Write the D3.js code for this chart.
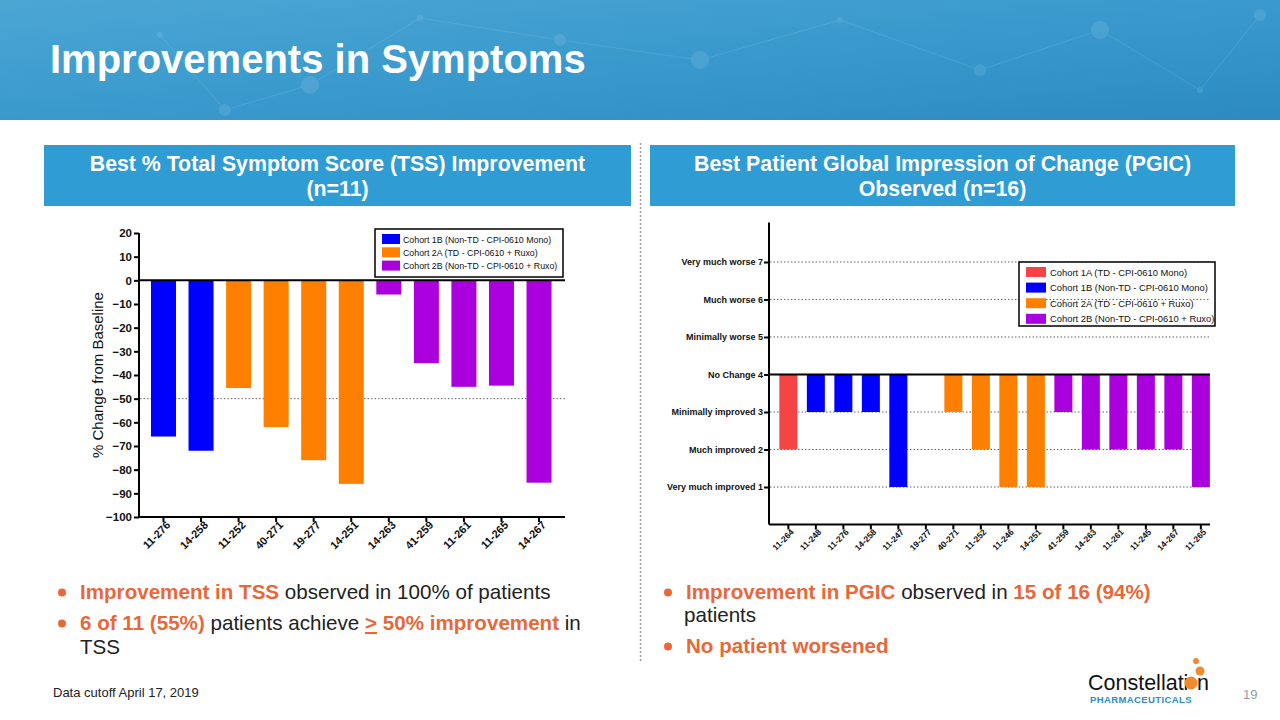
<!DOCTYPE html>
<html><head><meta charset="utf-8">
<script src="https://cdn.jsdelivr.net/npm/d3@7"></script>
<style>
html,body{margin:0;padding:0;background:#fff;}
svg{display:block;}
svg text{font-family:Arial,"Liberation Sans",Helvetica,sans-serif;}
</style></head>
<body><svg id="c" width="1280" height="720"></svg>
<script>
// ---------- DATA ----------
const tssPatients = ["11-276","14-258","11-252","40-271","19-277","14-251","14-263","41-259","11-261","11-265","14-267"];
const tssValues   = [-66, -72, -45.5, -62, -76, -86, -6, -35, -45, -44.5, -85.5];
const tssCohorts  = ["1B","1B","2A","2A","2A","2A","2B","2B","2B","2B","2B"];
const tssTicks    = [20,10,0,-10,-20,-30,-40,-50,-60,-70,-80,-90,-100];

const pgicPatients = ["11-264","11-248","11-276","14-258","11-247","19-277","40-271","11-252","11-246","14-251","41-259","14-263","11-261","11-245","14-267","11-265"];
const pgicValues   = [2,3,3,3,1,4,3,2,1,1,3,2,2,2,2,1];
const pgicCohorts  = ["1A","1B","1B","1B","1B","2A","2A","2A","2A","2A","2B","2B","2B","2B","2B","2B"];
const pgicLevels   = [1,2,3,4,5,6,7];
const pgicLabels   = ["Very much improved 1","Much improved 2","Minimally improved 3","No Change 4","Minimally worse 5","Much worse 6","Very much worse 7"];

const cohortKeys   = ["1A","1B","2A","2B"];
const cohortNames  = ["Cohort 1A (TD - CPI-0610 Mono)","Cohort 1B (Non-TD - CPI-0610 Mono)","Cohort 2A (TD - CPI-0610 + Ruxo)","Cohort 2B (Non-TD - CPI-0610 + Ruxo)"];
const cohortColors = ["#f44444","#0000ff","#ff8000","#aa00dd"];

// ---------- SETUP ----------
const FONT = "Arial, 'Liberation Sans', Helvetica, sans-serif";
const svg = d3.select("#c");
const color = d3.scaleOrdinal().domain(cohortKeys).range(cohortColors);
const orange = "#e8683a";
const defs = svg.append("defs");
const g1 = defs.append("linearGradient").attr("id","hdr").attr("x1","0").attr("x2","1").attr("y1","0").attr("y2","1");
g1.append("stop").attr("offset","0").attr("stop-color","#4ba6d4");
g1.append("stop").attr("offset","0.6").attr("stop-color","#3797cb");
g1.append("stop").attr("offset","1").attr("stop-color","#2c8ac0");

// banner
svg.append("rect").attr("x",0).attr("y",0).attr("width",1280).attr("height",120).attr("fill","url(#hdr)");
const deco = svg.append("g").attr("opacity",0.12).attr("stroke","#cfeaff").attr("fill","#cfeaff");
const net = [[160,35],[225,110],[310,85],[420,18],[560,40],[700,60],[840,20],[980,70],[1100,30],[1200,90],[1260,15]];
for(let i=0;i<net.length-1;i++){deco.append("line").attr("x1",net[i][0]).attr("y1",net[i][1]).attr("x2",net[i+1][0]).attr("y2",net[i+1][1]).attr("stroke-width",1);}
net.forEach((p,i)=>deco.append("circle").attr("cx",p[0]).attr("cy",p[1]).attr("r",3+(i%3)*3).attr("stroke","none"));
svg.append("text").attr("x",50).attr("y",73).attr("fill","#fff").attr("font-size",40).attr("font-weight","bold").text("Improvements in Symptoms");

// section headers
function sect(x,w,l1,l2){
  svg.append("rect").attr("x",x).attr("y",145).attr("width",w).attr("height",61).attr("fill","#2f9dd3");
  svg.append("text").attr("x",x+w/2).attr("y",171).attr("text-anchor","middle").attr("fill","#fff").attr("font-size",21.3).attr("font-weight","bold").text(l1);
  svg.append("text").attr("x",x+w/2).attr("y",196).attr("text-anchor","middle").attr("fill","#fff").attr("font-size",21.3).attr("font-weight","bold").text(l2);
}
sect(44,587,"Best % Total Symptom Score (TSS) Improvement","(n=11)");
sect(650,585,"Best Patient Global Impression of Change (PGIC)","Observed (n=16)");

// separator
svg.append("line").attr("x1",640.5).attr("x2",640.5).attr("y1",143).attr("y2",662).attr("stroke","#9a9a9a").attr("stroke-width",1.5).attr("stroke-dasharray","2,2");

// ---------- LEFT CHART ----------
const xL = d3.scaleBand().domain(tssPatients).range([144.7,557.8]).paddingInner(0.334).paddingOuter(0.167);
const yL = d3.scaleLinear().domain([-100,20]).range([517,233]);
const L = svg.append("g");
L.append("line").attr("x1",140).attr("x2",565).attr("y1",yL(-50)).attr("y2",yL(-50)).attr("stroke","#666").attr("stroke-width",1).attr("stroke-dasharray","1.5,2");
L.selectAll("rect.b").data(tssValues).join("rect")
  .attr("x",(d,i)=>xL(tssPatients[i])).attr("width",xL.bandwidth())
  .attr("y",yL(0)).attr("height",d=>yL(d)-yL(0))
  .attr("fill",(d,i)=>color(tssCohorts[i]));
const ayL = L.append("g").attr("transform","translate(139,0)").call(d3.axisLeft(yL).tickValues(tssTicks).tickSize(5).tickPadding(2).tickFormat(d3.format("d")));
ayL.select(".domain").attr("stroke","#000").attr("stroke-width",2).attr("d","M0,517V233");
ayL.selectAll(".tick line").attr("stroke","#000").attr("stroke-width",2);
ayL.selectAll("text").attr("font-size",11.5).attr("font-weight","bold").attr("fill","#111").attr("font-family",FONT);
L.append("line").attr("x1",139).attr("x2",565).attr("y1",yL(0)).attr("y2",yL(0)).attr("stroke","#000").attr("stroke-width",2);
const axL = L.append("g").attr("transform","translate(0,517)").call(d3.axisBottom(xL).tickSize(5).tickSizeOuter(0));
axL.select(".domain").attr("d","M139,0H565").attr("stroke","#000").attr("stroke-width",2);
axL.selectAll(".tick line").attr("stroke","#000").attr("stroke-width",2);
axL.selectAll("text").attr("font-size",11).attr("font-weight","bold").attr("fill","#111").attr("font-family",FONT)
  .attr("text-anchor","end").attr("transform","translate(5,6) rotate(-45)").attr("dy","0.35em").attr("y",0);
L.append("text").attr("transform","translate(103,375) rotate(-90)").attr("text-anchor","middle").attr("font-size",15).attr("fill","#111").text("% Change from Baseline");
const lgL = L.append("g");
lgL.append("rect").attr("x",375).attr("y",229).attr("width",188).attr("height",48).attr("fill","#fff").attr("stroke","#000").attr("stroke-width",1.5);
["1B","2A","2B"].forEach((k,i)=>{
  const ci = cohortKeys.indexOf(k);
  lgL.append("rect").attr("x",382).attr("y",234+i*13.3).attr("width",18).attr("height",10).attr("fill",cohortColors[ci]);
  lgL.append("text").attr("x",403).attr("y",242.5+i*13.3).attr("font-size",8.8).attr("fill","#111").text(cohortNames[ci]);
});

// ---------- RIGHT CHART ----------
const xR = d3.scaleBand().domain(pgicPatients).range([774.6,1214.6]).paddingInner(0.345).paddingOuter(0.1725);
const yR = d3.scaleLinear().domain([0,8]).range([524.5,224.5]);
const R = svg.append("g");
pgicLevels.filter(v=>v!==4).forEach(v=>{
  R.append("line").attr("x1",770).attr("x2",1210).attr("y1",yR(v)).attr("y2",yR(v)).attr("stroke","#666").attr("stroke-width",1).attr("stroke-dasharray","1.5,2");
});
R.selectAll("rect.b").data(pgicValues).join("rect")
  .attr("x",(d,i)=>xR(pgicPatients[i])).attr("width",xR.bandwidth())
  .attr("y",yR(4)).attr("height",d=>yR(d)-yR(4))
  .attr("fill",(d,i)=>color(pgicCohorts[i]));
const ayR = R.append("g").attr("transform","translate(769,0)").call(d3.axisLeft(yR).tickValues(pgicLevels).tickSize(5).tickPadding(1).tickFormat((d,i)=>pgicLabels[i]));
ayR.select(".domain").attr("stroke","#000").attr("stroke-width",2).attr("d","M0,"+yR(0)+"V"+(yR(8)-2));
ayR.selectAll(".tick line").attr("stroke","#000").attr("stroke-width",2);
ayR.selectAll("text").attr("font-size",9).attr("font-weight","bold").attr("fill","#111").attr("font-family",FONT);
R.append("line").attr("x1",769).attr("x2",1210).attr("y1",yR(4)).attr("y2",yR(4)).attr("stroke","#000").attr("stroke-width",2);
const axR = R.append("g").attr("transform","translate(0,"+yR(0)+")").call(d3.axisBottom(xR).tickSize(5).tickSizeOuter(0));
axR.select(".domain").attr("d","M769,0H1210").attr("stroke","#000").attr("stroke-width",2);
axR.selectAll(".tick line").attr("stroke","#000").attr("stroke-width",2);
axR.selectAll("text").attr("font-size",8.5).attr("font-weight","bold").attr("fill","#111").attr("font-family",FONT)
  .attr("text-anchor","end").attr("transform","translate(4,6) rotate(-45)").attr("dy","0.35em").attr("y",0);
const lgR = R.append("g");
lgR.append("rect").attr("x",1019).attr("y",262).attr("width",196).attr("height",64).attr("fill","#fff").attr("stroke","#000").attr("stroke-width",1.5);
cohortKeys.forEach((k,i)=>{
  lgR.append("rect").attr("x",1026).attr("y",267+i*15.6).attr("width",20).attr("height",10).attr("fill",cohortColors[i]);
  lgR.append("text").attr("x",1050).attr("y",275.5+i*15.6).attr("font-size",9.4).attr("fill","#111").text(cohortNames[i]);
});
R.append("line").attr("x1",1046).attr("x2",1210).attr("y1",yR(6)).attr("y2",yR(6)).attr("stroke","#666").attr("stroke-width",1).attr("stroke-dasharray","1.5,2");

// ---------- BULLETS ----------
function bullet(x,y,parts){
  svg.append("circle").attr("cx",x).attr("cy",y-6.5).attr("r",4).attr("fill",orange);
  const t = svg.append("text").attr("x",x+18).attr("y",y).attr("font-size",20.6).attr("fill","#222");
  parts.forEach(p=>{
    const s = t.append("tspan").text(p[0]);
    if(p[1]) s.attr("fill",orange).attr("font-weight","bold");
    if(p[2]) s.attr("text-decoration","underline");
  });
  return t;
}
bullet(62,599,[["Improvement in TSS",1],[" observed in 100% of patients",0]]);
bullet(62,630,[["6 of 11 (55%)",1],[" patients achieve ",0],[">",1,1],[" 50% improvement",1],[" in",0]]);
svg.append("text").attr("x",80).attr("y",654).attr("font-size",20.6).attr("fill","#222").text("TSS");
bullet(668,599,[["Improvement in PGIC",1],[" observed in ",0],["15 of 16 (94%)",1]]);
svg.append("text").attr("x",684).attr("y",622).attr("font-size",20.6).attr("fill","#222").text("patients");
bullet(668,653,[["No patient worsened",1]]);

// ---------- FOOTER ----------
svg.append("text").attr("x",53).attr("y",697).attr("font-size",13).attr("fill","#222").text("Data cutoff April 17, 2019");
svg.append("text").attr("x",1243).attr("y",699).attr("font-size",13).attr("fill","#999").text("19");
const lg = svg.append("g");
lg.append("text").attr("x",1088).attr("y",690).attr("font-size",21.5).attr("fill","#111").text("Constellati");
lg.append("circle").attr("cx",1191).attr("cy",683).attr("r",6.5).attr("fill","#f08a2c");
lg.append("text").attr("x",1197).attr("y",690).attr("font-size",21.5).attr("fill","#111").text("n");
lg.append("circle").attr("cx",1200).attr("cy",671).attr("r",4.5).attr("fill","#f08a2c");
lg.append("circle").attr("cx",1196).attr("cy",661).attr("r",3).attr("fill","#f08a2c");
lg.append("text").attr("x",1090).attr("y",703).attr("font-size",9.5).attr("letter-spacing",0.4).attr("fill","#2a8cc8").attr("font-weight","bold").text("PHARMACEUTICALS");
</script></body></html>
